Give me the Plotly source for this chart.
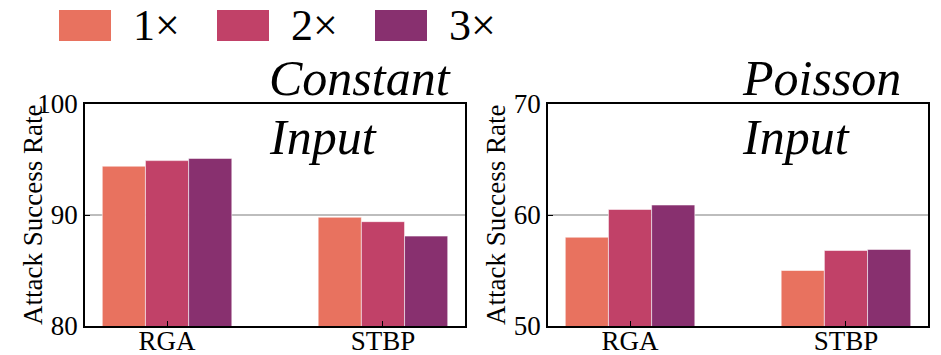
import plotly.graph_objects as go
from plotly.subplots import make_subplots

W, H = 941, 355

categories = ["RGA", "STBP"]
series_names = ["1×", "2×", "3×"]
series_colors = ["#E8725F", "#C14168", "#88306F"]

constant_1x = [94.4, 89.8]
constant_2x = [94.9, 89.4]
constant_3x = [95.1, 88.1]

poisson_1x = [58.0, 55.0]
poisson_2x = [60.5, 56.8]
poisson_3x = [60.9, 56.9]

constant_ticks = [80, 90, 100]
poisson_ticks = [50, 60, 70]

panel_titles = [("Constant", "Input"), ("Poisson", "Input")]
y_title = "Attack Success Rate"

FONT = "Liberation Serif, Times New Roman, serif"

def px(x):
    return x / W

def py(y):
    return 1 - y / H

fig = make_subplots(rows=1, cols=2)

panels = [
    ([constant_1x, constant_2x, constant_3x], 1),
    ([poisson_1x, poisson_2x, poisson_3x], 2),
]
for series, col in panels:
    for name, color, vals in zip(series_names, series_colors, series):
        fig.add_trace(
            go.Bar(
                x=categories, y=vals, name=name,
                marker=dict(color=color, line=dict(color="rgba(255,255,255,0.55)", width=1)),
                showlegend=False,
            ),
            row=1, col=col,
        )

fig.update_layout(
    template="none",
    width=W, height=H,
    margin=dict(l=0, r=0, t=0, b=0, pad=0),
    paper_bgcolor="white", plot_bgcolor="white",
    barmode="group", bargap=0.4, bargroupgap=0,
    font=dict(family=FONT, color="black", size=27),
    showlegend=False,
)

axis_common = dict(
    automargin=False,
    showline=True, mirror=True, linecolor="black", linewidth=1.5,
    ticks="inside", ticklen=5, tickwidth=1.2, tickcolor="black",
    tickfont=dict(family=FONT, size=27, color="black"),
)

fig.update_xaxes(**axis_common, showgrid=False, range=[-0.38, 1.38], ticklabelstandoff=-10)
fig.update_yaxes(**axis_common, showgrid=True, gridcolor="#bdbdbd", gridwidth=1.5, zeroline=False)

fig.update_layout(
    xaxis=dict(domain=[px(85), px(465)]),
    xaxis2=dict(domain=[px(548), px(928)]),
    yaxis=dict(domain=[py(326), py(104)], range=[constant_ticks[0], constant_ticks[-1]],
               tickvals=constant_ticks),
    yaxis2=dict(domain=[py(326), py(104)], range=[poisson_ticks[0], poisson_ticks[-1]],
                tickvals=poisson_ticks),
)

annotations = []
# y-axis titles
for xr, yr in [("x domain", "y domain"), ("x2 domain", "y2 domain")]:
    annotations.append(dict(
        text=y_title, xref=xr, yref=yr, x=0, y=0.5, xshift=-52,
        xanchor="center", yanchor="middle", textangle=-90, showarrow=False,
        font=dict(family=FONT, size=27, color="black"),
    ))

# panel titles
title_pos = [(267, 78, 137), (740, 78, 137)]
for (l1, l2), (xl, y1, y2) in zip(panel_titles, title_pos):
    for txt, yy in [(l1, y1), (l2, y2)]:
        annotations.append(dict(
            text="<i>%s</i>" % txt, xref="paper", yref="paper",
            x=px(xl), y=py(yy), xanchor="left", yanchor="middle",
            showarrow=False, font=dict(family=FONT, size=50, color="black"),
        ))

# custom legend (large patches)
shapes = []
for i, (name, color) in enumerate(zip(series_names, series_colors)):
    x0 = 59 + 158 * i
    shapes.append(dict(
        type="rect", xref="paper", yref="paper",
        x0=px(x0), x1=px(x0 + 52), y0=py(41), y1=py(10),
        fillcolor=color, line=dict(width=0),
    ))
    annotations.append(dict(
        text=name, xref="paper", yref="paper",
        x=px(x0 + 72), y=py(25), xanchor="left", yanchor="middle",
        showarrow=False, font=dict(family=FONT, size=44, color="black"),
    ))

fig.update_layout(annotations=annotations, shapes=shapes)

fig.write_html("out.html", config={"displayModeBar": False},
               post_script="document.body.style.margin='0';")
